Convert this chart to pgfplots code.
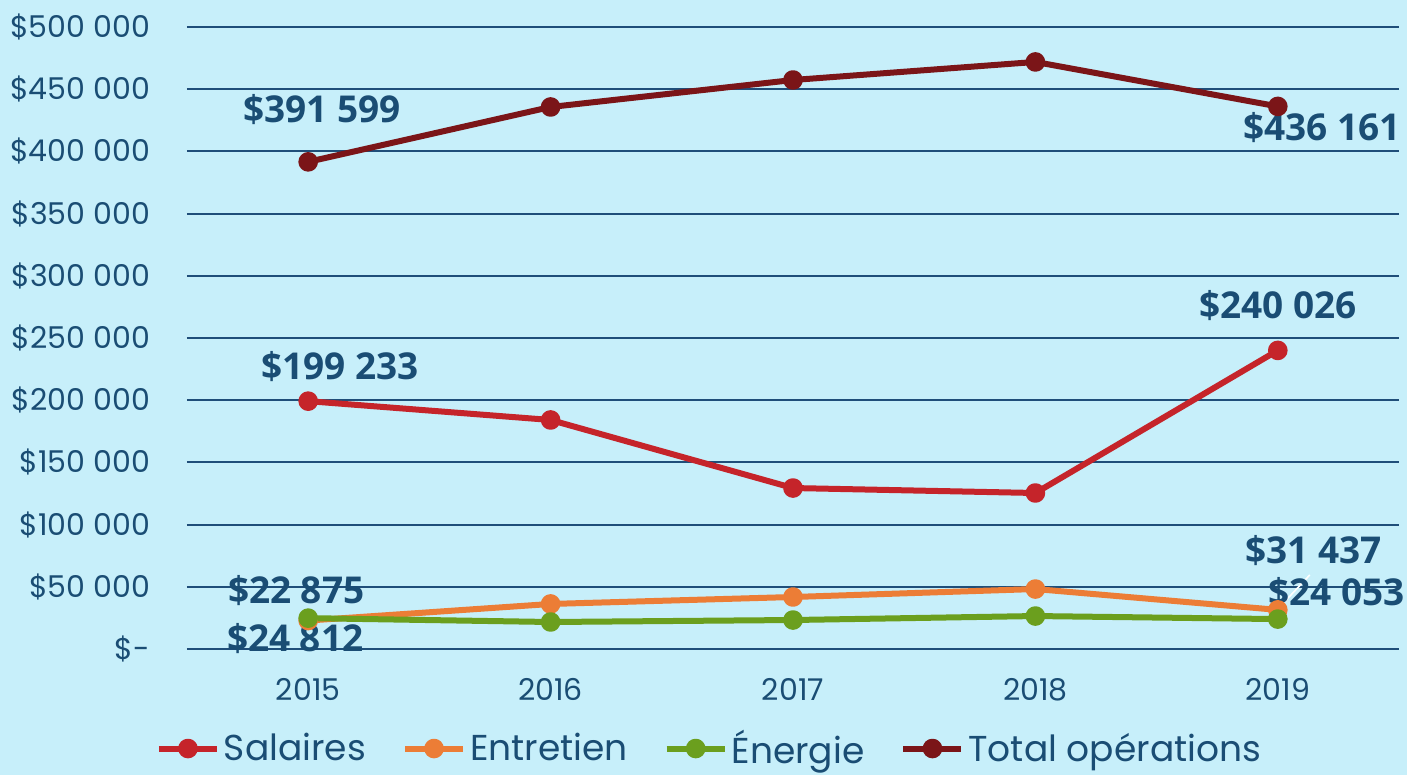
\documentclass[border=0pt]{standalone}
\usepackage{fontspec}
\setmainfont{Poppins}
\newfontfamily\labfont{Open Sans}
\usepackage{pgfplots}
\pgfplotsset{compat=1.18}

\definecolor{bgc}{HTML}{C7EFFA}
\definecolor{txtc}{HTML}{1A4D74}
\definecolor{gridc}{HTML}{1F4E79}
\definecolor{salc}{HTML}{C5242A}
\definecolor{entc}{HTML}{EC7D36}
\definecolor{enec}{HTML}{6B9F1E}
\definecolor{totc}{HTML}{7B1518}

\begin{document}
\begin{tikzpicture}
\path[fill=bgc, use as bounding box] (-93.5pt,-63pt) rectangle (610pt,324.5pt);
\begin{axis}[at={(0,0)}, anchor=south west, scale only axis, width=606pt, height=311pt,
  xmin=-0.5, xmax=4.5, ymin=0, ymax=500000, clip=false,
  axis line style={draw=none}, tick style={draw=none},
  ymajorgrids, grid style={gridc, line width=1pt},
  xtick={0,1,2,3,4}, xticklabels={2015,2016,2017,2018,2019},
  ytick={0,50000,100000,150000,200000,250000,300000,350000,400000,450000,500000},
  yticklabels={{\$-},{\$50 000},{\$100 000},{\$150 000},{\$200 000},{\$250 000},{\$300 000},{\$350 000},{\$400 000},{\$450 000},{\$500 000}},
  scaled y ticks=false,
  tick label style={font=\fontsize{15}{18}\selectfont, text=txtc},
  yticklabel style={xshift=-15pt},
  xticklabel style={yshift=-11pt},
  every axis plot/.append style={line width=3pt, mark=*, mark size=3.4pt, line join=round},
  legend columns=4,
  legend cell align=left,
  legend image code/.code={\draw[mark repeat=2,mark phase=2] plot coordinates {(0pt,0pt) (14.5pt,0pt) (29pt,0pt)};},
  legend style={draw=none, fill=none, at={(0.432,-0.16)}, anchor=center,
    font=\fontsize{18}{21}\selectfont, text=txtc,
    /tikz/every even column/.append style={column sep=16pt}},
]
\addplot[color=salc] coordinates {(0,199233) (1,184100) (2,129400) (3,125400) (4,240026)};
\addlegendentry{Salaires}
\addplot[color=entc] coordinates {(0,22875) (1,36200) (2,41800) (3,48200) (4,31437)};
\addlegendentry{Entretien}
\addplot[color=enec] coordinates {(0,24812) (1,21700) (2,23300) (3,26500) (4,24053)};
\addlegendentry{Énergie}
\addplot[color=totc] coordinates {(0,391599) (1,435700) (2,457400) (3,471900) (4,436161)};
\addlegendentry{Total opérations}

\draw[white, line width=0.8pt] (axis cs:4,32200) -- ++(16pt,17pt);
\tikzset{dl/.style={font=\labfont\bfseries\fontsize{18.5}{22}\selectfont, text=txtc, inner sep=0pt}}
\node[dl, xshift=7pt, yshift=26pt] at (axis cs:0,391599) {\$391 599};
\node[dl, xshift=22pt, yshift=-10.5pt] at (axis cs:4,436161) {\$436 161};
\node[dl, xshift=16pt, yshift=17.5pt] at (axis cs:0,199233) {\$199 233};
\node[dl, yshift=22.5pt] at (axis cs:4,240026) {\$240 026};
\node[dl, xshift=-6pt, yshift=15pt] at (axis cs:0,22875) {\$22 875};
\node[dl, xshift=-6.5pt, yshift=-10pt] at (axis cs:0,24812) {\$24 812};
\node[dl, xshift=18pt, yshift=29.5pt] at (axis cs:4,31437) {\$31 437};
\node[dl, xshift=29.5pt, yshift=13.5pt] at (axis cs:4,24053) {\$24 053};
\end{axis}
\end{tikzpicture}
\end{document}
